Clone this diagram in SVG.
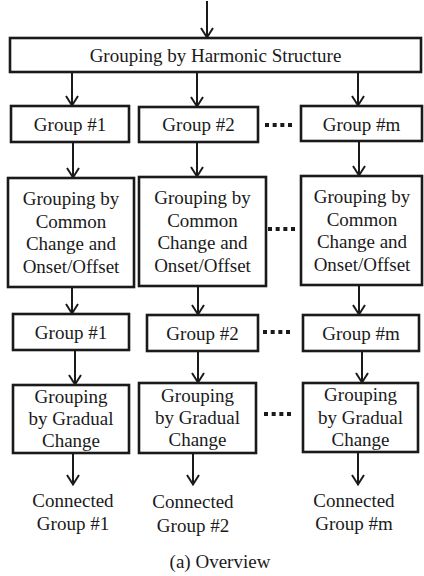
<svg xmlns="http://www.w3.org/2000/svg" width="424" height="576" viewBox="0 0 424 576">
  <style>
    .box { fill: #ffffff; stroke: #1a1a1a; stroke-width: 2.6; }
    .lbl { font-family: "Liberation Serif", "Times New Roman", serif; font-size: 19px; fill: #1a1a1a; text-anchor: middle; }
    .wire { stroke: #1a1a1a; stroke-width: 2; fill: none; marker-end: url(#arr); }
    .dots { stroke: #1a1a1a; stroke-width: 4; stroke-dasharray: 4 3.67; }
  </style>
  <defs>
    <marker id="arr" markerUnits="userSpaceOnUse" markerWidth="16" markerHeight="16" viewBox="0 0 16 16" refX="13" refY="8" orient="auto">
      <path d="M3,2 L12.5,8 L3,14" fill="none" stroke="#1a1a1a" stroke-width="2"/>
    </marker>
  </defs>
  <rect width="424" height="576" fill="#ffffff"/>

  <!-- connectors -->
  <g id="connectors">
    <line class="wire" x1="207" y1="1" x2="207" y2="38"/>
    <line class="wire" x1="72" y1="72" x2="72" y2="106"/>
    <line class="wire" x1="197" y1="72" x2="197" y2="107"/>
    <line class="wire" x1="358" y1="72" x2="358" y2="106"/>

    <line class="wire" x1="73" y1="142" x2="73" y2="178"/>
    <line class="wire" x1="197" y1="142" x2="197" y2="177"/>
    <line class="wire" x1="359" y1="141" x2="359" y2="176"/>

    <line class="wire" x1="72" y1="287" x2="72" y2="314"/>
    <line class="wire" x1="198" y1="286" x2="198" y2="315"/>
    <line class="wire" x1="359" y1="285" x2="359" y2="315"/>

    <line class="wire" x1="75" y1="350" x2="75" y2="385"/>
    <line class="wire" x1="198" y1="351" x2="198" y2="383"/>
    <line class="wire" x1="362" y1="351" x2="362" y2="383"/>

    <line class="wire" x1="73" y1="453" x2="73" y2="485"/>
    <line class="wire" x1="193" y1="453" x2="193" y2="485"/>
    <line class="wire" x1="358" y1="452" x2="358" y2="485"/>

    <line class="dots" x1="265" y1="125" x2="292" y2="125"/>
    <line class="dots" x1="268" y1="229" x2="295" y2="229"/>
    <line class="dots" x1="263" y1="332" x2="290" y2="332"/>
    <line class="dots" x1="264" y1="414" x2="291" y2="414"/>
  </g>

  <!-- top stage -->
  <g id="harmonic">
    <rect class="box" x="10" y="38" width="411" height="34"/>
    <text class="lbl" x="215.5" y="62">Grouping by Harmonic Structure</text>
  </g>

  <!-- first group row -->
  <g id="group1a">
    <rect class="box" x="11" y="106" width="118" height="36"/>
    <text class="lbl" x="70" y="131">Group #1</text>
  </g>
  <g id="group2a">
    <rect class="box" x="139" y="107" width="119" height="35"/>
    <text class="lbl" x="198.5" y="131">Group #2</text>
  </g>
  <g id="groupma">
    <rect class="box" x="301" y="106" width="121" height="35"/>
    <text class="lbl" x="361.5" y="131">Group #m</text>
  </g>

  <!-- common change stage -->
  <g id="common1">
    <rect class="box" x="8" y="178" width="126" height="109"/>
    <text class="lbl" x="71" y="205">Grouping by</text>
    <text class="lbl" x="71" y="228">Common</text>
    <text class="lbl" x="71" y="250">Change and</text>
    <text class="lbl" x="71" y="273">Onset/Offset</text>
  </g>
  <g id="common2">
    <rect class="box" x="139" y="177" width="127" height="109"/>
    <text class="lbl" x="202.5" y="204">Grouping by</text>
    <text class="lbl" x="202.5" y="227">Common</text>
    <text class="lbl" x="202.5" y="249">Change and</text>
    <text class="lbl" x="202.5" y="272">Onset/Offset</text>
  </g>
  <g id="commonm">
    <rect class="box" x="301" y="176" width="121" height="109"/>
    <text class="lbl" x="362" y="203">Grouping by</text>
    <text class="lbl" x="362" y="226">Common</text>
    <text class="lbl" x="362" y="248">Change and</text>
    <text class="lbl" x="362" y="271">Onset/Offset</text>
  </g>

  <!-- second group row -->
  <g id="group1b">
    <rect class="box" x="13" y="314" width="116" height="36"/>
    <text class="lbl" x="71" y="339">Group #1</text>
  </g>
  <g id="group2b">
    <rect class="box" x="147" y="315" width="111" height="36"/>
    <text class="lbl" x="202.5" y="340">Group #2</text>
  </g>
  <g id="groupmb">
    <rect class="box" x="303" y="315" width="116" height="36"/>
    <text class="lbl" x="361" y="340">Group #m</text>
  </g>

  <!-- gradual change stage -->
  <g id="gradual1">
    <rect class="box" x="13" y="385" width="116" height="68"/>
    <text class="lbl" x="71" y="403">Grouping</text>
    <text class="lbl" x="71" y="425">by Gradual</text>
    <text class="lbl" x="71" y="447">Change</text>
  </g>
  <g id="gradual2">
    <rect class="box" x="139" y="383" width="117" height="70"/>
    <text class="lbl" x="197.5" y="402">Grouping</text>
    <text class="lbl" x="197.5" y="424">by Gradual</text>
    <text class="lbl" x="197.5" y="446">Change</text>
  </g>
  <g id="gradualm">
    <rect class="box" x="303" y="383" width="115" height="69"/>
    <text class="lbl" x="360.5" y="401">Grouping</text>
    <text class="lbl" x="360.5" y="424">by Gradual</text>
    <text class="lbl" x="360.5" y="446">Change</text>
  </g>

  <!-- outputs -->
  <g id="out1">
    <text class="lbl" x="73" y="507">Connected</text>
    <text class="lbl" x="73" y="530">Group #1</text>
  </g>
  <g id="out2">
    <text class="lbl" x="193" y="508">Connected</text>
    <text class="lbl" x="193" y="532">Group #2</text>
  </g>
  <g id="outm">
    <text class="lbl" x="354" y="507">Connected</text>
    <text class="lbl" x="354" y="530">Group #m</text>
  </g>

  <text id="caption" class="lbl" x="220" y="568">(a) Overview</text>
</svg>
